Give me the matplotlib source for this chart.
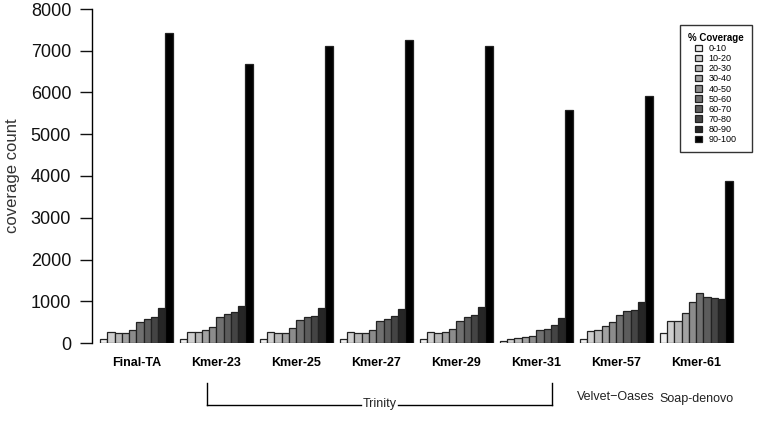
import matplotlib
matplotlib.use("Agg")
import matplotlib.pyplot as plt
from matplotlib.patches import Patch
from matplotlib.lines import Line2D
import matplotlib.transforms as mtransforms

groups = ["Final-TA", "Kmer-23", "Kmer-25", "Kmer-27", "Kmer-29", "Kmer-31", "Kmer-57", "Kmer-61"]
bins = ["0-10", "10-20", "20-30", "30-40", "40-50", "50-60", "60-70", "70-80", "80-90", "90-100"]

final_ta = [100, 256, 240, 240, 320, 496, 576, 616, 832, 7420]
kmer23 = [100, 272, 272, 320, 392, 624, 696, 752, 896, 6680]
kmer25 = [96, 264, 240, 240, 352, 560, 616, 648, 840, 7120]
kmer27 = [96, 264, 232, 248, 320, 536, 584, 640, 824, 7260]
kmer29 = [96, 264, 232, 272, 328, 536, 616, 672, 856, 7110]
kmer31 = [56, 96, 120, 136, 168, 304, 336, 432, 592, 5580]
kmer57 = [96, 280, 320, 408, 504, 680, 760, 792, 976, 5920]
kmer61 = [232, 528, 528, 720, 984, 1192, 1096, 1080, 1064, 3880]
values = [final_ta, kmer23, kmer25, kmer27, kmer29, kmer31, kmer57, kmer61]

colors = ["#efefef", "#cfcfcf", "#b8b8b8", "#a2a2a2", "#8c8c8c",
          "#707070", "#5c5c5c", "#444444", "#262626", "#000000"]

plt.rcParams['font.family'] = ['Liberation Sans', 'DejaVu Sans']

fig = plt.figure(figsize=(7.58, 4.41), dpi=100)
W, H = 758, 441
ax = fig.add_axes([92 / W, (H - 343) / H, (758 - 92) / W, (343 - 9) / H])

nb = len(bins)
for g, vals in enumerate(values):
    for i, v in enumerate(vals):
        left = 1 + g * (nb + 1) + i
        ax.bar(left, v, width=1, align='edge', color=colors[i],
               edgecolor='#222222', linewidth=0.9)

ax.set_xlim(-0.1, 91.5)
ax.set_ylim(0, 8000)
ax.set_yticks(range(0, 8001, 1000))
ax.tick_params(axis='y', labelsize=13, length=9, width=1, pad=6, colors='#111111')
ax.set_xticks([])
for s in ['top', 'right', 'bottom']:
    ax.spines[s].set_visible(False)
ax.spines['left'].set_bounds(0, 8000)
ax.spines['left'].set_linewidth(1)
ax.set_ylabel("coverage count", fontsize=12, labelpad=8, color='#333333')

trans = mtransforms.blended_transform_factory(ax.transData, fig.transFigure)
for g, name in enumerate(groups):
    cx = 1 + g * (nb + 1) + nb / 2
    ax.text(cx, 1 - 363 / H, name, transform=trans, ha='center', va='center',
            fontsize=9, fontweight='bold')

cx57 = 1 + 6 * (nb + 1) + nb / 2
cx61 = 1 + 7 * (nb + 1) + nb / 2
ax.text(cx57, 1 - 397 / H, "Velvet\u2212Oases", transform=trans, ha='center', va='center',
        fontsize=9, color='#222222')
ax.text(cx61, 1 - 399 / H, "Soap-denovo", transform=trans, ha='center', va='center',
        fontsize=9, color='#222222')

# Trinity bracket
xl, xr = 15.7, 63.2
ytop, ybot = 1 - 383 / H, 1 - 405 / H
xm = (xl + xr) / 2
for xs, ys in [([xl, xl], [ytop, ybot]), ([xr, xr], [ytop, ybot]),
               ([xl, xm - 2.6], [ybot, ybot]), ([xm + 2.6, xr], [ybot, ybot])]:
    ax.add_line(Line2D(xs, ys, transform=trans, color='black', linewidth=1, clip_on=False))
ax.text(xm, ybot + 0.002, "Trinity", transform=trans, ha='center', va='center',
        fontsize=9, color='#222222')

handles = [Patch(facecolor=c, edgecolor='#222222', linewidth=0.9) for c in colors]
leg = fig.legend(handles, bins, loc='upper right', bbox_to_anchor=(752 / W, 1 - 25 / H),
                 fontsize=6.5, title="% Coverage", title_fontproperties={'size': 7, 'weight': 'bold'},
                 frameon=True, fancybox=False, edgecolor='black', handlelength=0.7,
                 handleheight=0.7, handletextpad=0.8, labelspacing=0.12,
                 borderpad=0.9, borderaxespad=0)
leg.get_frame().set_linewidth(1)

fig.savefig("out.png", dpi=100)
